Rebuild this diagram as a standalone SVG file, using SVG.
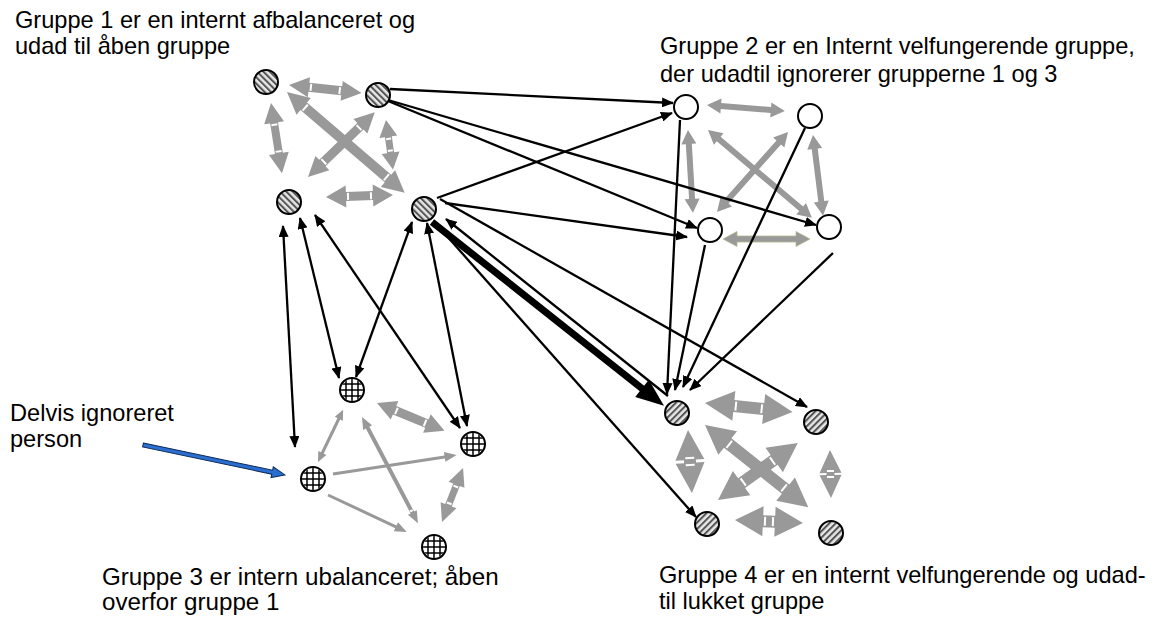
<svg xmlns="http://www.w3.org/2000/svg" xmlns:xlink="http://www.w3.org/1999/xlink" width="1157" height="617" viewBox="0 0 1157 617">
<style>
.txt{font-family:"Liberation Sans",Arial,sans-serif;font-size:23.6px;fill:#000}
.ga{fill:#999999}
.gb{fill:#999999;stroke:#b8b890;stroke-width:0.8}
.nt{stroke:#fff;stroke-width:2}
.bl{stroke:#000;stroke-width:2.3;fill:none}
.node{stroke:#000;stroke-width:2}
</style>
<defs>
<pattern id="hatchA" patternUnits="userSpaceOnUse" width="4.5" height="4.5" patternTransform="rotate(-45)">
<rect width="4.5" height="4.5" fill="#e6e6e6"/><rect width="2" height="4.5" fill="#555"/>
</pattern>
<pattern id="hatchB" patternUnits="userSpaceOnUse" width="4.5" height="4.5" patternTransform="rotate(45)">
<rect width="4.5" height="4.5" fill="#e6e6e6"/><rect width="2" height="4.5" fill="#555"/>
</pattern>
<clipPath id="cc"><circle r="11"/></clipPath>
<g id="nodeA"><circle r="12" fill="url(#hatchA)" class="node"/></g>
<g id="nodeB"><circle r="12" fill="url(#hatchB)" class="node"/></g>
<g id="nodeW"><circle r="12" fill="#fff" class="node"/></g>
<g id="nodeG"><circle r="12" fill="#fff"/><g clip-path="url(#cc)" stroke="#000" stroke-width="1.5"><line x1="-6" y1="-12" x2="-6" y2="12"/><line x1="0" y1="-12" x2="0" y2="12"/><line x1="6" y1="-12" x2="6" y2="12"/><line x1="-12" y1="-6" x2="12" y2="-6"/><line x1="-12" y1="0" x2="12" y2="0"/><line x1="-12" y1="6" x2="12" y2="6"/></g><circle r="12" fill="none" class="node"/></g>
<marker id="ah" markerUnits="userSpaceOnUse" markerWidth="12" markerHeight="10" refX="11" refY="5" orient="auto-start-reverse"><path d="M0,0 L12,5 L0,10 z" fill="#000"/></marker>
</defs>

<g id="connectors">
<!-- group 1 internal gray arrows -->
<g transform="translate(289,85) rotate(6.3)"><polygon class="ga" points="0,0 20,-10 20,-4.5 53,-4.5 53,-10 73,0 53,10 53,4.5 20,4.5 20,10"/><line class="nt" x1="22" y1="-3.5" x2="22" y2="3.5"/><line class="nt" x1="51" y1="-3.5" x2="51" y2="3.5"/></g>
<g transform="translate(271,103) rotate(81.1)"><polygon class="ga" points="0,0 20,-10 20,-4 51,-4 51,-10 71,0 51,10 51,4 20,4 20,10"/><line class="nt" x1="22" y1="-3" x2="22" y2="3"/><line class="nt" x1="49" y1="-3" x2="49" y2="3"/></g>
<g transform="translate(287,92) rotate(40.6)"><polygon class="ga" points="0,0 22,-11 22,-5 133,-5 133,-11 155,0 133,11 133,5 22,5 22,11"/><line class="nt" x1="24" y1="-4" x2="24" y2="4"/><line class="nt" x1="131" y1="-4" x2="131" y2="4"/></g>
<g transform="translate(308,177) rotate(-44.1)"><polygon class="ga" points="0,0 20,-10 20,-4.5 73,-4.5 73,-10 93,0 73,10 73,4.5 20,4.5 20,10"/><line class="nt" x1="22" y1="-3.5" x2="22" y2="3.5"/><line class="nt" x1="71" y1="-3.5" x2="71" y2="3.5"/></g>
<g transform="translate(386,120) rotate(82)"><polygon class="ga" points="0,0 17,-9 17,-3.5 33,-3.5 33,-9 50,0 33,9 33,3.5 17,3.5 17,9"/><line class="nt" x1="19" y1="-2.5" x2="19" y2="2.5"/><line class="nt" x1="31" y1="-2.5" x2="31" y2="2.5"/></g>
<g transform="translate(326,197) rotate(-1.7)"><polygon class="ga" points="0,0 20,-11 20,-4.5 47,-4.5 47,-11 67,0 47,11 47,4.5 20,4.5 20,11"/><line class="nt" x1="22" y1="-3.5" x2="22" y2="3.5"/><line class="nt" x1="45" y1="-3.5" x2="45" y2="3.5"/></g>

<!-- group 2 internal gray arrows -->
<g transform="translate(707,105) rotate(4.4)"><polygon class="ga" points="0,0 14,-7.5 14,-3 64,-3 64,-7.5 78,0 64,7.5 64,3 14,3 14,7.5"/></g>
<g transform="translate(688,130) rotate(86.6)"><polygon class="ga" points="0,0 14,-7.5 14,-3 69,-3 69,-7.5 83,0 69,7.5 69,3 14,3 14,7.5"/></g>
<g transform="translate(708,130) rotate(40.2)"><polygon class="ga" points="0,0 14,-7.5 14,-3 122,-3 122,-7.5 136,0 122,7.5 122,3 14,3 14,7.5"/></g>
<g transform="translate(717,212) rotate(-48.4)"><polygon class="ga" points="0,0 14,-7.5 14,-3 93,-3 93,-7.5 107,0 93,7.5 93,3 14,3 14,7.5"/></g>
<g transform="translate(813,135) rotate(82.9)"><polygon class="ga" points="0,0 14,-7.5 14,-3 67,-3 67,-7.5 81,0 67,7.5 67,3 14,3 14,7.5"/></g>
<g transform="translate(723,239)"><polygon class="gb" points="0,0 14,-7.5 14,-3 73,-3 73,-7.5 87,0 73,7.5 73,3 14,3 14,7.5"/></g>

<!-- group 3 internal gray arrows -->
<g transform="translate(318,462) rotate(-64.3)"><polygon class="ga" points="0,0 10,-4.5 10,-1.5 48,-1.5 48,-4.5 58,0 48,4.5 48,1.5 10,1.5 10,4.5"/></g>
<g transform="translate(377,403) rotate(22.4)"><polygon class="ga" points="0,0 19,-10 19,-4.5 54,-4.5 54,-10 73,0 54,10 54,4.5 19,4.5 19,10"/><line class="nt" x1="21" y1="-3.5" x2="21" y2="3.5"/><line class="nt" x1="52" y1="-3.5" x2="52" y2="3.5"/></g>
<g transform="translate(362,417) rotate(62.2)"><polygon class="ga" points="0,0 12,-5 12,-2 108,-2 108,-5 120,0 108,5 108,2 12,2 12,5"/><line class="nt" x1="106" y1="-1.5" x2="106" y2="1.5"/></g>
<g transform="translate(333,474) rotate(-8.7)"><polygon class="ga" points="0,-1.5 113,-1.5 113,-5 125,0 113,5 113,1.5 0,1.5"/></g>
<g transform="translate(328,495) rotate(25.1)"><polygon class="ga" points="0,-1.5 75,-1.5 75,-5 87,0 75,5 75,1.5 0,1.5"/></g>
<g transform="translate(442,522) rotate(-68.7)"><polygon class="ga" points="0,0 18,-8.5 18,-3.5 40,-3.5 40,-8.5 58,0 40,8.5 40,3.5 18,3.5 18,8.5"/><line class="nt" x1="20" y1="-2.5" x2="20" y2="2.5"/><line class="nt" x1="38" y1="-2.5" x2="38" y2="2.5"/></g>

<!-- group 4 internal gray arrows -->
<g transform="translate(705,403) rotate(5.8)"><polygon class="ga" points="0,0 29,-15 29,-6 59,-6 59,-15 88,0 59,15 59,6 29,6 29,15"/><line class="nt" x1="31" y1="-4.5" x2="31" y2="4.5"/><line class="nt" x1="57" y1="-4.5" x2="57" y2="4.5"/></g>
<g transform="translate(688,430) rotate(86.4)"><polygon class="ga" points="0,0 30,-14.5 30,-6 33,-6 33,-14.5 63,0 33,14.5 33,6 30,6 30,14.5"/><line class="nt" x1="28" y1="-4.5" x2="28" y2="4.5"/><line class="nt" x1="35" y1="-4.5" x2="35" y2="4.5"/></g>
<g transform="translate(705,425) rotate(38.5)"><polygon class="ga" points="0,0 29,-15 29,-6 103,-6 103,-15 132,0 103,15 103,6 29,6 29,15"/><line class="nt" x1="31" y1="-4.5" x2="31" y2="4.5"/><line class="nt" x1="101" y1="-4.5" x2="101" y2="4.5"/></g>
<g transform="translate(718,500) rotate(-35.5)"><polygon class="ga" points="0,0 29,-15 29,-6 69,-6 69,-15 98,0 69,15 69,6 29,6 29,15"/><line class="nt" x1="31" y1="-4.5" x2="31" y2="4.5"/><line class="nt" x1="67" y1="-4.5" x2="67" y2="4.5"/></g>
<g transform="translate(830,450) rotate(88.8)"><polygon class="ga" points="0,0 23,-11 23,-4 25,-4 25,-11 48,0 25,11 25,4 23,4 23,11"/><line class="nt" x1="21" y1="-3.5" x2="21" y2="3.5"/><line class="nt" x1="27" y1="-3.5" x2="27" y2="3.5"/></g>
<g transform="translate(735,520) rotate(2.5)"><polygon class="ga" points="0,0 28,-15 28,-6 40,-6 40,-15 68,0 40,15 40,6 28,6 28,15"/><line class="nt" x1="30" y1="-4.5" x2="30" y2="4.5"/><line class="nt" x1="38" y1="-4.5" x2="38" y2="4.5"/></g>

<!-- black connectors -->
<line class="bl" x1="390" y1="89" x2="673" y2="103" stroke-width="3.2" marker-end="url(#ah)"/>
<line class="bl" x1="388" y1="100" x2="816" y2="225" marker-end="url(#ah)"/>
<line class="bl" x1="388" y1="101" x2="697" y2="228" marker-end="url(#ah)"/>
<line class="bl" x1="437" y1="198" x2="672" y2="113" marker-end="url(#ah)"/>
<line class="bl" x1="445" y1="203" x2="687" y2="237" marker-end="url(#ah)"/>
<line class="bl" x1="440" y1="199" x2="807" y2="407" marker-end="url(#ah)"/>
<line class="bl" x1="438" y1="226" x2="696" y2="517" marker-end="url(#ah)"/>
<line class="bl" x1="668" y1="396" x2="446" y2="219" marker-end="url(#ah)"/>
<g transform="translate(432,222) rotate(38.4)"><line x1="0" y1="0" x2="272" y2="0" stroke="#000" stroke-width="7"/><polygon points="268,-11 296,0 268,11" fill="#000"/></g>
<line class="bl" x1="680" y1="120" x2="667" y2="394" marker-end="url(#ah)"/>
<line class="bl" x1="705" y1="245" x2="675" y2="390" marker-end="url(#ah)"/>
<line class="bl" x1="805" y1="128" x2="683" y2="387" marker-end="url(#ah)"/>
<line class="bl" x1="833" y1="253" x2="690" y2="390" marker-end="url(#ah)"/>
<line class="bl" x1="283" y1="226" x2="295" y2="447" stroke-width="3.2" marker-start="url(#ah)" marker-end="url(#ah)"/>
<line class="bl" x1="300" y1="218" x2="339" y2="378" marker-start="url(#ah)" marker-end="url(#ah)"/>
<line class="bl" x1="315" y1="215" x2="460" y2="428" marker-start="url(#ah)" marker-end="url(#ah)"/>
<line class="bl" x1="412" y1="222" x2="356" y2="377" marker-start="url(#ah)" marker-end="url(#ah)"/>
<line class="bl" x1="427" y1="223" x2="467" y2="426" marker-start="url(#ah)" marker-end="url(#ah)"/>

<!-- blue pointer -->
<g transform="translate(143,445) rotate(11.9)"><polygon points="0,-2 132,-2 132,-5.5 145,0 132,5.5 132,2 0,2" fill="#2a6fd0" stroke="#0d2a5a" stroke-width="1"/></g>
</g>

<g id="group1">
<use id="n_a1" xlink:href="#nodeA" x="266" y="82"/>
<use id="n_a2" xlink:href="#nodeA" x="378" y="95"/>
<use id="n_a3" xlink:href="#nodeA" x="289" y="202"/>
<use id="n_a4" xlink:href="#nodeA" x="424" y="209"/>
</g>
<g id="group2">
<use id="n_b1" xlink:href="#nodeW" x="686" y="107"/>
<use id="n_b2" xlink:href="#nodeW" x="810" y="116"/>
<use id="n_b3" xlink:href="#nodeW" x="710" y="230"/>
<use id="n_b4" xlink:href="#nodeW" x="829" y="227"/>
</g>
<g id="group3">
<use id="n_c1" xlink:href="#nodeG" x="352" y="390"/>
<use id="n_c2" xlink:href="#nodeG" x="473" y="444"/>
<use id="n_c3" xlink:href="#nodeG" x="313" y="479"/>
<use id="n_c4" xlink:href="#nodeG" x="434" y="547"/>
</g>
<g id="group4">
<use id="n_d1" xlink:href="#nodeB" x="677" y="413"/>
<use id="n_d2" xlink:href="#nodeB" x="816" y="422"/>
<use id="n_d3" xlink:href="#nodeB" x="707" y="524"/>
<use id="n_d4" xlink:href="#nodeB" x="831" y="533"/>
</g>

<g id="labels">
<text class="txt" x="15" y="28">Gruppe 1 er en internt afbalanceret og</text>
<text class="txt" x="15" y="54">udad til åben gruppe</text>
<text class="txt" x="660" y="54">Gruppe 2 er en Internt velfungerende gruppe,</text>
<text class="txt" x="660" y="82">der udadtil ignorerer grupperne 1 og 3</text>
<text class="txt" x="10" y="421">Delvis ignoreret</text>
<text class="txt" x="10" y="447">person</text>
<text class="txt" x="102" y="585" style="font-size:24.2px">Gruppe 3 er intern ubalanceret; åben</text>
<text class="txt" x="102" y="610" style="font-size:24.2px">overfor gruppe 1</text>
<text class="txt" x="659" y="583">Gruppe 4 er en internt velfungerende og udad-</text>
<text class="txt" x="659" y="609">til lukket gruppe</text>
</g>
</svg>
